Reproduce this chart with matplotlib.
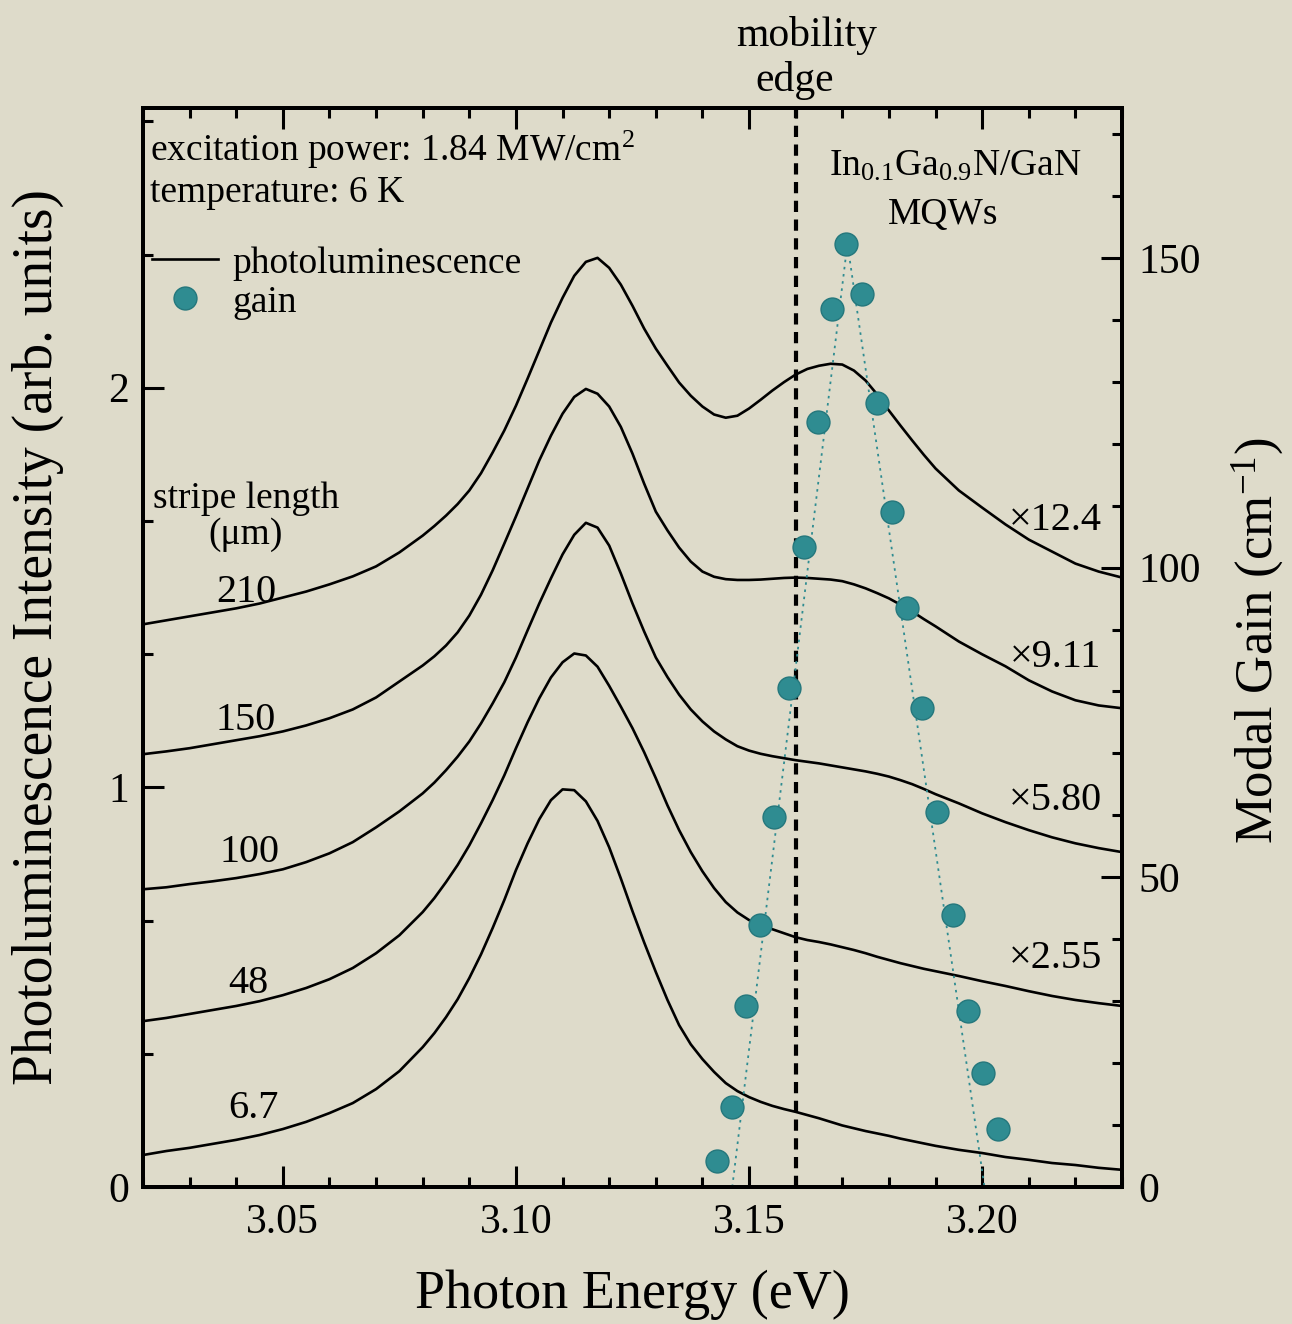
import numpy as np
import matplotlib
matplotlib.use("Agg")
import matplotlib.pyplot as plt
from matplotlib.ticker import MultipleLocator, FormatStrFormatter
from matplotlib.lines import Line2D

plt.rcParams['font.family'] = ['Liberation Serif', 'DejaVu Serif']
plt.rcParams['mathtext.fontset'] = 'custom'
plt.rcParams['mathtext.rm'] = 'Liberation Serif'
plt.rcParams['mathtext.it'] = 'Liberation Serif:italic'
plt.rcParams['mathtext.bf'] = 'Liberation Serif:bold'

# ---------------- data ----------------
energy = [3.020, 3.025, 3.030, 3.035, 3.040, 3.045, 3.050, 3.055, 3.060, 3.065, 3.070, 3.075,
          3.080, 3.0825, 3.085, 3.0875, 3.090, 3.0925, 3.095, 3.0975, 3.100, 3.1025,
          3.105, 3.1075, 3.110, 3.1125, 3.115, 3.1175, 3.120, 3.1225, 3.125, 3.1275,
          3.130, 3.1325, 3.135, 3.1375, 3.140, 3.1425, 3.145, 3.1475, 3.150, 3.1525,
          3.155, 3.1575, 3.160, 3.1625, 3.165, 3.1675, 3.170, 3.1725, 3.175, 3.1775,
          3.180, 3.1825, 3.185, 3.1875, 3.190,
          3.195, 3.200, 3.205, 3.210, 3.215, 3.220, 3.225, 3.230]

pl_6p7 = [0.080, 0.090, 0.098, 0.108, 0.118, 0.130, 0.145, 0.163, 0.185, 0.210, 0.245, 0.290,
          0.350, 0.385, 0.425, 0.470, 0.523, 0.582, 0.648, 0.718, 0.793, 0.860,
          0.920, 0.968, 0.995, 0.993, 0.965, 0.916, 0.850, 0.772, 0.690, 0.612,
          0.538, 0.468, 0.405, 0.357, 0.320, 0.288, 0.260, 0.240, 0.225, 0.213,
          0.203, 0.195, 0.188, 0.180, 0.172, 0.163, 0.154, 0.147, 0.140, 0.134,
          0.128, 0.121, 0.115, 0.109, 0.103,
          0.093, 0.085, 0.075, 0.068, 0.060, 0.055, 0.048, 0.043]

pl_48 = [0.415, 0.423, 0.433, 0.443, 0.453, 0.465, 0.480, 0.498, 0.520, 0.548, 0.585, 0.630,
         0.688, 0.723, 0.763, 0.806, 0.855, 0.910, 0.968, 1.030, 1.098, 1.163,
         1.223, 1.275, 1.313, 1.335, 1.330, 1.302, 1.254, 1.202, 1.148, 1.088,
         1.023, 0.955, 0.893, 0.838, 0.790, 0.748, 0.713, 0.687, 0.668, 0.655,
         0.645, 0.635, 0.625, 0.618, 0.613, 0.607, 0.600, 0.593, 0.585, 0.576,
         0.568, 0.560, 0.553, 0.546, 0.540,
         0.528, 0.515, 0.503, 0.490, 0.478, 0.468, 0.460, 0.453]

pl_100 = [0.745, 0.750, 0.758, 0.765, 0.773, 0.783, 0.795, 0.813, 0.835, 0.863, 0.900, 0.940,
          0.985, 1.012, 1.043, 1.077, 1.115, 1.160, 1.210, 1.263, 1.325, 1.393,
          1.460, 1.523, 1.583, 1.632, 1.662, 1.650, 1.605, 1.535, 1.460, 1.390,
          1.325, 1.276, 1.232, 1.195, 1.165, 1.140, 1.120, 1.103, 1.092, 1.084,
          1.078, 1.073, 1.068, 1.064, 1.060, 1.055, 1.050, 1.045, 1.040, 1.034,
          1.027, 1.018, 1.008, 0.996, 0.983,
          0.960, 0.935, 0.913, 0.893, 0.875, 0.860, 0.848, 0.838]

pl_150 = [1.083, 1.090, 1.098, 1.108, 1.118, 1.128, 1.140, 1.155, 1.173, 1.195, 1.225, 1.265,
          1.305, 1.328, 1.355, 1.388, 1.430, 1.482, 1.543, 1.610, 1.678, 1.748,
          1.818, 1.880, 1.935, 1.977, 1.997, 1.985, 1.953, 1.902, 1.835, 1.760,
          1.690, 1.643, 1.600, 1.565, 1.540, 1.527, 1.521, 1.519, 1.519, 1.520,
          1.522, 1.524, 1.525, 1.524, 1.522, 1.520, 1.516, 1.508, 1.498, 1.486,
          1.473, 1.457, 1.440, 1.421, 1.403,
          1.365, 1.333, 1.303, 1.268, 1.240, 1.218, 1.205, 1.198]

pl_210 = [1.408, 1.418, 1.428, 1.438, 1.448, 1.460, 1.475, 1.490, 1.508, 1.528, 1.553, 1.588,
          1.630, 1.654, 1.680, 1.709, 1.743, 1.786, 1.838, 1.893, 1.955, 2.023,
          2.093, 2.163, 2.225, 2.280, 2.315, 2.325, 2.300, 2.258, 2.205, 2.148,
          2.098, 2.055, 2.013, 1.980, 1.953, 1.933, 1.925, 1.930, 1.948, 1.970,
          1.993, 2.014, 2.033, 2.047, 2.055, 2.060, 2.058, 2.043, 2.018, 1.983,
          1.943, 1.905, 1.868, 1.832, 1.798,
          1.743, 1.700, 1.658, 1.620, 1.590, 1.560, 1.540, 1.525]

stripe_labels = ['6.7', '48', '100', '150', '210']
scale_labels = ['\u00d72.55', '\u00d75.80', '\u00d79.11', '\u00d712.4']

gain_energy = [3.1431, 3.1464, 3.1494, 3.1524, 3.1554, 3.1586, 3.1617, 3.1647,
               3.1677, 3.1709, 3.1742, 3.1774, 3.1806, 3.1838, 3.1871, 3.1903,
               3.1937, 3.1970, 3.2002, 3.2035]
gain_values = [4.2, 12.9, 29.2, 42.3, 59.7, 80.6, 103.4, 123.5, 141.8, 152.3,
               144.2, 126.6, 109.0, 93.4, 77.3, 60.5, 43.9, 28.4, 18.4, 9.4]

gain_guide_energy = [3.1464, 3.1711, 3.2005]
gain_guide_values = [0.0, 152.3, 0.0]

mobility_edge = 3.160

# ---------------- style ----------------
bg = '#dedbca'
teal = '#2f8c91'
teal_edge = '#24777c'

fig = plt.figure(figsize=(12.92, 13.24), dpi=100, facecolor=bg)
ax = fig.add_axes([143 / 1292, 1 - 1187 / 1324, (1122 - 143) / 1292, (1187 - 108) / 1324])
ax.set_facecolor('none')
ax2 = ax.twinx()

curves = [pl_6p7, pl_48, pl_100, pl_150, pl_210]
for c in curves:
    ax.plot(energy, c, color='black', lw=1.9, solid_joinstyle='round',
            solid_capstyle='round', zorder=2)

ax.axvline(mobility_edge, color='black', lw=3.0, ls=(0, (2.7, 1.8)), zorder=1)

ax2.plot(gain_guide_energy, gain_guide_values, color=teal, lw=1.3,
         ls=(0, (1.4, 2.6)), zorder=2)
ax2.plot(gain_energy, gain_values, ls='none', marker='o', ms=16.5,
         mfc=teal, mec=teal_edge, mew=1.0, zorder=3)

ax.set_xlim(3.02, 3.23)
ax.set_ylim(0, 2.7)
ax2.set_ylim(0, 174.2)

# ticks
ax.xaxis.set_major_locator(MultipleLocator(0.05))
ax.xaxis.set_minor_locator(MultipleLocator(0.01))
ax.xaxis.set_major_formatter(FormatStrFormatter('%.2f'))
ax.yaxis.set_major_locator(MultipleLocator(1))
ax.yaxis.set_minor_locator(MultipleLocator(1 / 3))
ax2.yaxis.set_major_locator(MultipleLocator(50))
ax2.yaxis.set_minor_locator(MultipleLocator(10))

ax.tick_params(which='both', direction='in', top=True, right=False,
               width=2.2, labelsize=30, colors='black')
ax.tick_params(which='major', length=15)
ax.tick_params(which='minor', length=7.5)
ax.tick_params(axis='x', pad=12)
ax.tick_params(axis='y', pad=10)
ax2.tick_params(which='both', direction='in', width=2.2, labelsize=30)
ax2.tick_params(which='major', length=15, pad=12)
ax2.tick_params(which='minor', length=7.5)

for a in (ax, ax2):
    for s in a.spines.values():
        s.set_linewidth(2.8)

# axis labels
ax.text(-0.107, 0.51, 'Photoluminescence Intensity (arb. units)', transform=ax.transAxes,
        rotation=90, ha='center', va='center', fontsize=40)
ax.text(0.5, -0.100, 'Photon Energy (eV)', transform=ax.transAxes,
        ha='center', va='center', fontsize=39)
ax.text(1.138, 0.506, 'Modal Gain (cm$^{-1}$)', transform=ax.transAxes,
        rotation=90, ha='center', va='center', fontsize=38)

# annotations
ax.text(3.0216, 2.5675, 'excitation power: 1.84 MW/cm$^{2}$', ha='left', va='baseline', fontsize=27)
ax.text(3.0216, 2.465, 'temperature: 6 K', ha='left', va='baseline', fontsize=27)

ax.text(3.0421, 1.6775, 'stripe length\n(\u03bcm)', ha='center', va='center',
        fontsize=27, multialignment='center', linespacing=1.05)

label_pos = [(3.0436, 0.1975), (3.0425, 0.51), (3.0428, 0.8375), (3.0421, 1.1675), (3.0421, 1.4875)]
for (x, y), t in zip(label_pos, stripe_labels):
    ax.text(x, y, t, ha='center', va='center', fontsize=29)

scale_pos = [(3.2157, 0.5725), (3.2157, 0.9675), (3.2157, 1.325), (3.2157, 1.6675)]
for (x, y), t in zip(scale_pos, scale_labels):
    ax.text(x, y, t, ha='center', va='center', fontsize=29)

ax.text(3.1942, 2.53, 'In$_{0.1}$Ga$_{0.9}$N/GaN', ha='center', va='baseline', fontsize=27)
ax.text(3.1916, 2.41, 'MQWs', ha='center', va='baseline', fontsize=27)

ax.text(3.1623, 2.855, 'mobility', ha='center', va='baseline', fontsize=30, clip_on=False)
ax.text(3.1597, 2.7425, 'edge', ha='center', va='baseline', fontsize=30, clip_on=False)

handles = [Line2D([], [], color='black', lw=1.9),
           Line2D([], [], ls='none', marker='o', ms=16.5, mfc=teal, mec=teal_edge, mew=1.0)]
leg = ax2.legend(handles, ['photoluminescence', 'gain'], loc='upper left',
                 bbox_to_anchor=(0.0092, 0.872), frameon=False, fontsize=27,
                 handlelength=1.75, handletextpad=0.4, labelspacing=0.12,
                 borderpad=0, borderaxespad=0)

fig.savefig('out.png', dpi=100, facecolor=bg)
